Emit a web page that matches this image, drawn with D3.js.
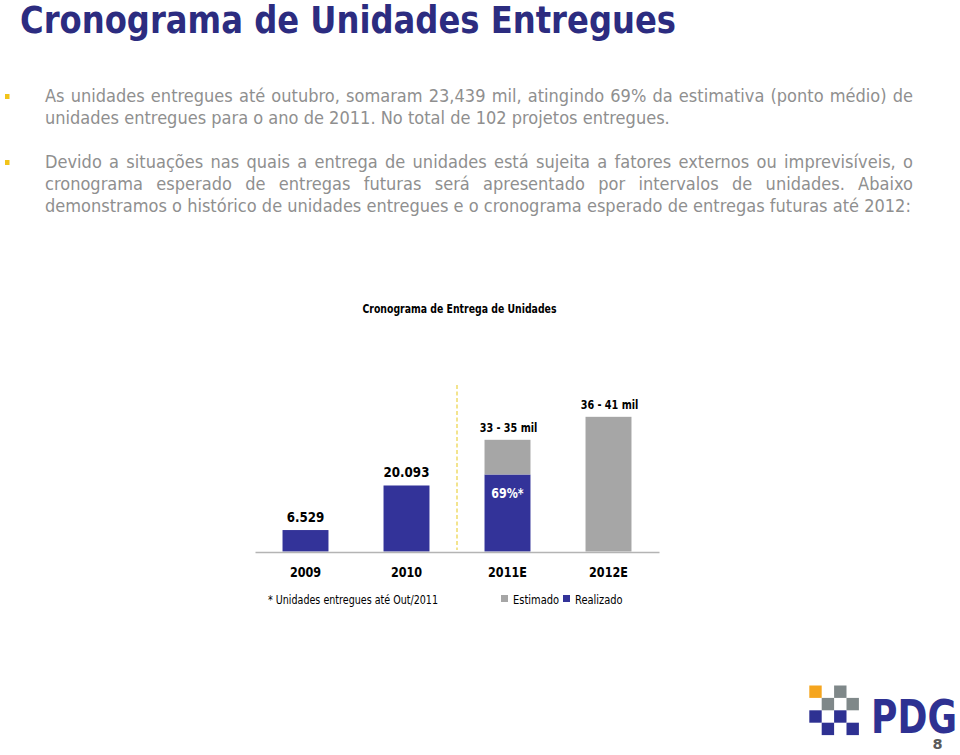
<!DOCTYPE html>
<html><head><meta charset="utf-8">
<script src="https://cdn.jsdelivr.net/npm/d3@7"></script>
<style>
html,body{margin:0;padding:0;background:#fff;}
svg{display:block;}
</style></head>
<body>
<svg id="c" width="960" height="755"></svg>
<script>
// ---------- DATA ----------
const pageTitle = "Cronograma de Unidades Entregues";
const bullet1 = [
  "As unidades entregues até outubro, somaram 23,439 mil, atingindo 69% da estimativa (ponto médio) de",
  "unidades entregues para o ano de 2011. No total de 102 projetos entregues."
];
const bullet2 = [
  "Devido a situações nas quais a entrega de unidades está sujeita a fatores externos ou imprevisíveis, o",
  "cronograma esperado de entregas futuras será apresentado por intervalos de unidades. Abaixo",
  "demonstramos o histórico de unidades entregues e o cronograma esperado de entregas futuras até 2012:"
];
const chartTitle = "Cronograma de Entrega de Unidades";
const categories = ["2009", "2010", "2011E", "2012E"];
const realizado = [6529, 20093, 23439, 0];
const estimado  = [0, 0, 10561, 41000];
const valueLabels = ["6.529", "20.093", "33 - 35 mil", "36 - 41 mil"];
const realizadoShareLabels = ["", "", "69%*", ""];
const seriesNames = ["Estimado", "Realizado"];
const footnote = "* Unidades entregues até Out/2011";
const logoText = "PDG";
const pageNumber = "8";

// ---------- STYLE ----------
const NAVY = "#333399", GRAY = "#a6a6a6", TITLE = "#2c2c80", BODY = "#8f8f8f", BULLET = "#f2c419";
const FONT = "'DejaVu Sans', Verdana, sans-serif";

const svg = d3.select("#c");

function measure(str, size, weight) {
  const t = svg.append("text").attr("font-family", FONT).attr("font-size", size)
    .attr("font-weight", weight || "normal").text(str);
  const w = t.node().getComputedTextLength();
  t.remove();
  return w;
}
function ctext(g, str, x, y, o) {
  const k = o.k || 0.86;
  const w = o.width || measure(str, o.size, o.weight) * k;
  let x0 = x;
  if (o.anchor === "middle") x0 = x - w / 2;
  else if (o.anchor === "end") x0 = x - w;
  return g.append("text").attr("x", x0).attr("y", y)
    .attr("font-family", FONT).attr("font-size", o.size)
    .attr("font-weight", o.weight || "normal").attr("fill", o.fill || "#000")
    .attr("textLength", w).attr("lengthAdjust", "spacingAndGlyphs")
    .text(str);
}

// ---------- TITLE ----------
svg.append("text").attr("x", 20).attr("y", 32.5)
  .attr("font-family", FONT).attr("font-size", 36.5).attr("font-weight", "bold")
  .attr("fill", TITLE).attr("textLength", 656).attr("lengthAdjust", "spacingAndGlyphs")
  .text(pageTitle);

// ---------- BODY TEXT ----------
const BSIZE = 17.4;
const LX0 = 45, LX1 = 913;
const refLine = bullet2[2];
const bodyK = (911 - LX0) / measure(refLine, BSIZE);
const spaceW = measure("a a", BSIZE) - measure("aa", BSIZE);

function drawLine(str, y, justify) {
  const words = str.split(" ");
  const ws = words.map(w => measure(w, BSIZE) * bodyK);
  const sum = d3.sum(ws);
  const gap = justify ? (LX1 - LX0 - sum) / (words.length - 1) : spaceW * bodyK;
  let x = LX0;
  const g = svg.append("g");
  words.forEach((w, i) => {
    g.append("text").attr("x", x).attr("y", y)
      .attr("font-family", FONT).attr("font-size", BSIZE).attr("fill", BODY)
      .attr("textLength", ws[i]).attr("lengthAdjust", "spacingAndGlyphs").text(w);
    x += ws[i] + gap;
  });
}
const b1y = [102, 123.5], b2y = [168, 190, 211.7];
bullet1.forEach((l, i) => drawLine(l, b1y[i], i < bullet1.length - 1));
bullet2.forEach((l, i) => drawLine(l, b2y[i], i < bullet2.length - 1));
svg.append("rect").attr("x", 5).attr("y", 94).attr("width", 4.5).attr("height", 5).attr("fill", BULLET);
svg.append("rect").attr("x", 5).attr("y", 160).attr("width", 4.5).attr("height", 5).attr("fill", BULLET);

// ---------- CHART ----------
const chart = svg.append("g");
ctext(chart, chartTitle, 459.5, 313, {size: 11.5, weight: "bold", anchor: "middle", width: 194});

const x = d3.scaleBand().domain(categories).range([255, 659])
  .paddingInner(0.545).paddingOuter(0.545 / 2);
const y = d3.scaleLinear().domain([0, 41000]).range([551.5, 551.5 - 0.003285 * 41000]);

const sepX = (x("2010") + x.bandwidth() + x("2011E")) / 2;
chart.append("line").attr("x1", sepX).attr("x2", sepX).attr("y1", 385).attr("y2", 550)
  .attr("stroke", "#efdc6a").attr("stroke-width", 1.5).attr("stroke-dasharray", "4,2.5");

const data = categories.map((c, i) => ({c, r: realizado[i], e: estimado[i], lab: valueLabels[i], pct: realizadoShareLabels[i]}));

chart.selectAll(".r").data(data.filter(d => d.r > 0)).join("rect")
  .attr("x", d => x(d.c)).attr("width", x.bandwidth())
  .attr("y", d => y(d.r)).attr("height", d => y(0) - y(d.r)).attr("fill", NAVY);
chart.selectAll(".e").data(data.filter(d => d.e > 0)).join("rect")
  .attr("x", d => x(d.c)).attr("width", x.bandwidth())
  .attr("y", d => y(d.r + d.e)).attr("height", d => y(d.r) - y(d.r + d.e)).attr("fill", GRAY);

const axis = chart.append("g").attr("transform", "translate(0,552)")
  .call(d3.axisBottom(x).tickSize(0).tickPadding(0));
axis.select(".domain").attr("stroke", "#b4b4b4").attr("stroke-width", 1.5);
axis.selectAll(".tick text").remove();
categories.forEach(c => {
  ctext(chart, c, x(c) + x.bandwidth() / 2, 577, {size: 13.5, weight: "bold", anchor: "middle", k: 0.83});
});

data.forEach(d => {
  const top = y(d.r + d.e);
  const big = d.e === 0;
  ctext(chart, d.lab, x(d.c) + x.bandwidth() / 2 + (big ? 0 : 1), top - 8,
    {size: big ? 13.5 : 11.5, weight: "bold", anchor: "middle", k: big ? 0.88 : 0.84});
  if (d.pct) {
    ctext(chart, d.pct, x(d.c) + x.bandwidth() / 2, y(d.r) + 23,
      {size: 13.5, weight: "bold", anchor: "middle", fill: "#fff", k: 0.82});
  }
});

ctext(chart, footnote, 268, 604, {size: 11.5, anchor: "start", width: 170});
const legColors = [GRAY, NAVY];
const legX = [501, 563];
seriesNames.forEach((n, i) => {
  chart.append("rect").attr("x", legX[i]).attr("y", 595).attr("width", 7).attr("height", 7).attr("fill", legColors[i]);
  ctext(chart, n, legX[i] + 12, 604, {size: 11.5, anchor: "start", k: 0.86});
});

// ---------- LOGO ----------
const logo = svg.append("g");
const cell = 12.4;
const logoCells = [
  [0, 0, "#f5a51e"], [2, 0, "#7f8889"],
  [1, 1, "#7f8889"], [3, 1, "#7f8889"],
  [0, 2, "#2e3192"], [2, 2, "#2e3192"],
  [1, 3, "#2e3192"], [3, 3, "#2e3192"]
];
logoCells.forEach(([cx, cy, col]) => {
  logo.append("rect").attr("x", 809.3 + cx * cell).attr("y", 685.5 + cy * cell)
    .attr("width", cell).attr("height", cell).attr("fill", col);
});
logo.append("text").attr("x", 871).attr("y", 733)
  .attr("font-family", FONT).attr("font-size", 46).attr("font-weight", "bold")
  .attr("fill", "#2e3192").attr("textLength", 86).attr("lengthAdjust", "spacingAndGlyphs")
  .text(logoText);
svg.append("text").attr("x", 937.5).attr("y", 749).attr("text-anchor", "middle")
  .attr("font-family", FONT).attr("font-size", 14.5).attr("font-weight", "bold")
  .attr("fill", "#5a5a5a").text(pageNumber);
</script>
</body></html>
